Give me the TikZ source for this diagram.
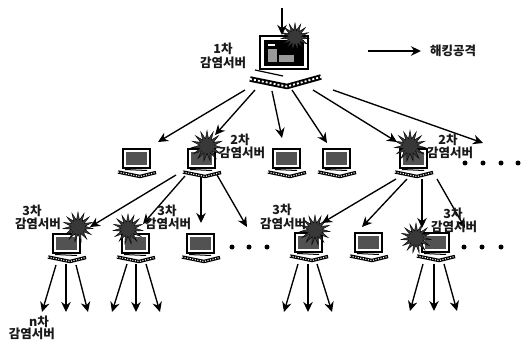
\documentclass[tikz,border=0pt]{standalone}
\usepackage{fontspec}
\usetikzlibrary{arrows.meta,shapes.geometric,patterns}
\newfontfamily\cjkfont{Noto Sans CJK KR}
\tikzset{
  lab/.style={font=\cjkfont\bfseries\fontsize{12.5}{13}\selectfont,inner sep=0pt,text=black!90},
  arr/.style={draw=black,line width=1.35pt,-{Stealth[length=10pt,width=9.5pt]}},
  burst/.style={star,star points=15,star point ratio=2.1,fill=black!78,draw=black,line width=.4pt,inner sep=0pt,minimum size=#1},
  dotmark/.style={circle,fill=black,inner sep=0pt,minimum size=5pt},
  screenout/.style={draw=black,line width=1.7pt,fill=white},
  bandblack/.style={draw=black,line width=3.4pt,line join=round},
  banddots/.style={draw=white,line width=1.1pt,dash pattern=on 1.1pt off 1.5pt},
}
% small computer: name, x of screen left, y of screen top
\newcommand{\smallpc}[3]{%
  \coordinate (#1) at (#2,#3);
  \begin{scope}[shift={(#1)}]
    \fill[white] (-6,21) -- (17,28) -- (34,23) -- (27,17) -- (2,17) -- cycle;
    \draw[line width=1pt] (2,20.5) -- (24,21.5);
    \draw[screenout] (0,0) rectangle (27,19);
    \fill[black!68] (3,3) rectangle (24,16);
    \draw[bandblack] (-5,23) -- (17,27.5) -- (33,23.5);
    \draw[banddots] (-5,23) -- (17,27.5) -- (33,23.5);
  \end{scope}}
\newcommand{\arrow}[5]{%
  \coordinate (#1s) at (#2,#3);
  \coordinate (#1e) at (#4,#5);
  \draw[arr] (#1s) -- (#1e);}
\begin{document}
\begin{tikzpicture}[x=1pt,y=-1pt]
\useasboundingbox (0,0) rectangle (525,342);
\fill[white] (0,0) rectangle (525,342);
% main computer
\coordinate (pc0) at (260,36);
\begin{scope}[shift={(pc0)}]
  \draw[line width=2.4pt,fill=white] (0,0) rectangle (48,33);
  \fill[black] (4,4) rectangle (44,30);
  \fill[black!40] (8,13) rectangle (17,26);
  \fill[white] (8,8) rectangle (15,10);
  \fill[black!40] (19,19) rectangle (34,26);
  \draw[line width=1.2pt] (-5,34) -- (23,40);
  \draw[bandblack,line width=5.5pt] (-10,43) -- (27,50.5) -- (61,41);
  \draw[banddots,line width=1.8pt,dash pattern=on 2pt off 2pt] (-10,43) -- (27,50.5) -- (61,41);
\end{scope}
\node[burst=28pt] (b0) at (295,37) {};
% second-level computers
\smallpc{pa}{123}{149}
\smallpc{pb}{188}{149}
\smallpc{pc}{273}{149}
\smallpc{pd}{323}{149}
\smallpc{pe}{400}{149}
% third-level computers
\smallpc{pf}{53}{234}
\smallpc{pg}{122}{234}
\smallpc{ph}{187}{234}
\smallpc{pi}{295}{233}
\smallpc{pj}{355}{233}
\smallpc{pk}{422}{233}
% bursts
\node[burst=31pt] (bb) at (207,146) {};
\node[burst=31pt] (be) at (410,146) {};
\node[burst=30pt] (bf) at (78,227) {};
\node[burst=30pt] (bg) at (128,229) {};
\node[burst=30pt] (bi) at (315,230) {};
\node[burst=30pt] (bk) at (416,238) {};
% arrows
\arrow{in}{282}{8}{282}{35}
\arrow{leg}{368}{51}{421}{51}
\arrow{ta}{245}{90}{158}{142}
\arrow{tb}{255}{90}{215}{135}
\arrow{tc}{272}{91}{282}{138}
\arrow{td}{292}{90}{327}{143}
\arrow{te}{313}{90}{397}{142}
\arrow{tf}{333}{90}{483}{143}
\arrow{ba}{176}{175}{90}{227}
\arrow{bb}{185}{176}{143}{224}
\arrow{bc}{201}{177}{201}{223}
\arrow{bd}{217}{175}{247}{227}
\arrow{ea}{396}{179}{322}{223}
\arrow{eb}{407}{179}{362}{227}
\arrow{ec}{422}{179}{422}{228}
\arrow{ed}{437}{179}{465}{228}
\arrow{fa}{56}{265}{42}{312}
\arrow{fb}{66}{264}{66}{312}
\arrow{fc}{76}{265}{88}{312}
\arrow{ga}{127}{264}{112}{312}
\arrow{gb}{136}{264}{136}{312}
\arrow{gc}{146}{264}{160}{312}
\arrow{ia}{298}{264}{284}{312}
\arrow{ib}{308}{264}{308}{312}
\arrow{ic}{317}{264}{332}{312}
\arrow{ka}{423}{264}{410}{311}
\arrow{kb}{434}{264}{434}{311}
\arrow{kc}{444}{264}{457}{311}
% dots
\foreach \n/\x/\y in {1/465/163,2/483/163,3/501/163,4/518/163,5/232/247,6/249/247,7/267/247,8/464/247,9/482/247,10/501/247}
  \node[dotmark] (d\n) at (\x,\y) {};
% labels
\node[lab] (l0a) at (223,49) {1차};
\node[lab] (l0b) at (223,63) {감염서버};
\node[lab] (l1a) at (240,140) {2차};
\node[lab] (l1b) at (242,153) {감염서버};
\node[lab] (l2a) at (448,140) {2차};
\node[lab] (l2b) at (450,153) {감염서버};
\node[lab] (l3a) at (32,211) {3차};
\node[lab] (l3b) at (38,224) {감염서버};
\node[lab] (l4a) at (167,211) {3차};
\node[lab] (l4b) at (168,224) {감염서버};
\node[lab] (l5a) at (282,210) {3차};
\node[lab] (l5b) at (283,224) {감염서버};
\node[lab] (l6a) at (453,214) {3차};
\node[lab] (l6b) at (454,227) {감염서버};
\node[lab] (l7a) at (39,322) {n차};
\node[lab] (l7b) at (32,334) {감염서버};
\node[lab] (lg) at (453,51) {해킹공격};
\end{tikzpicture}
\end{document}
